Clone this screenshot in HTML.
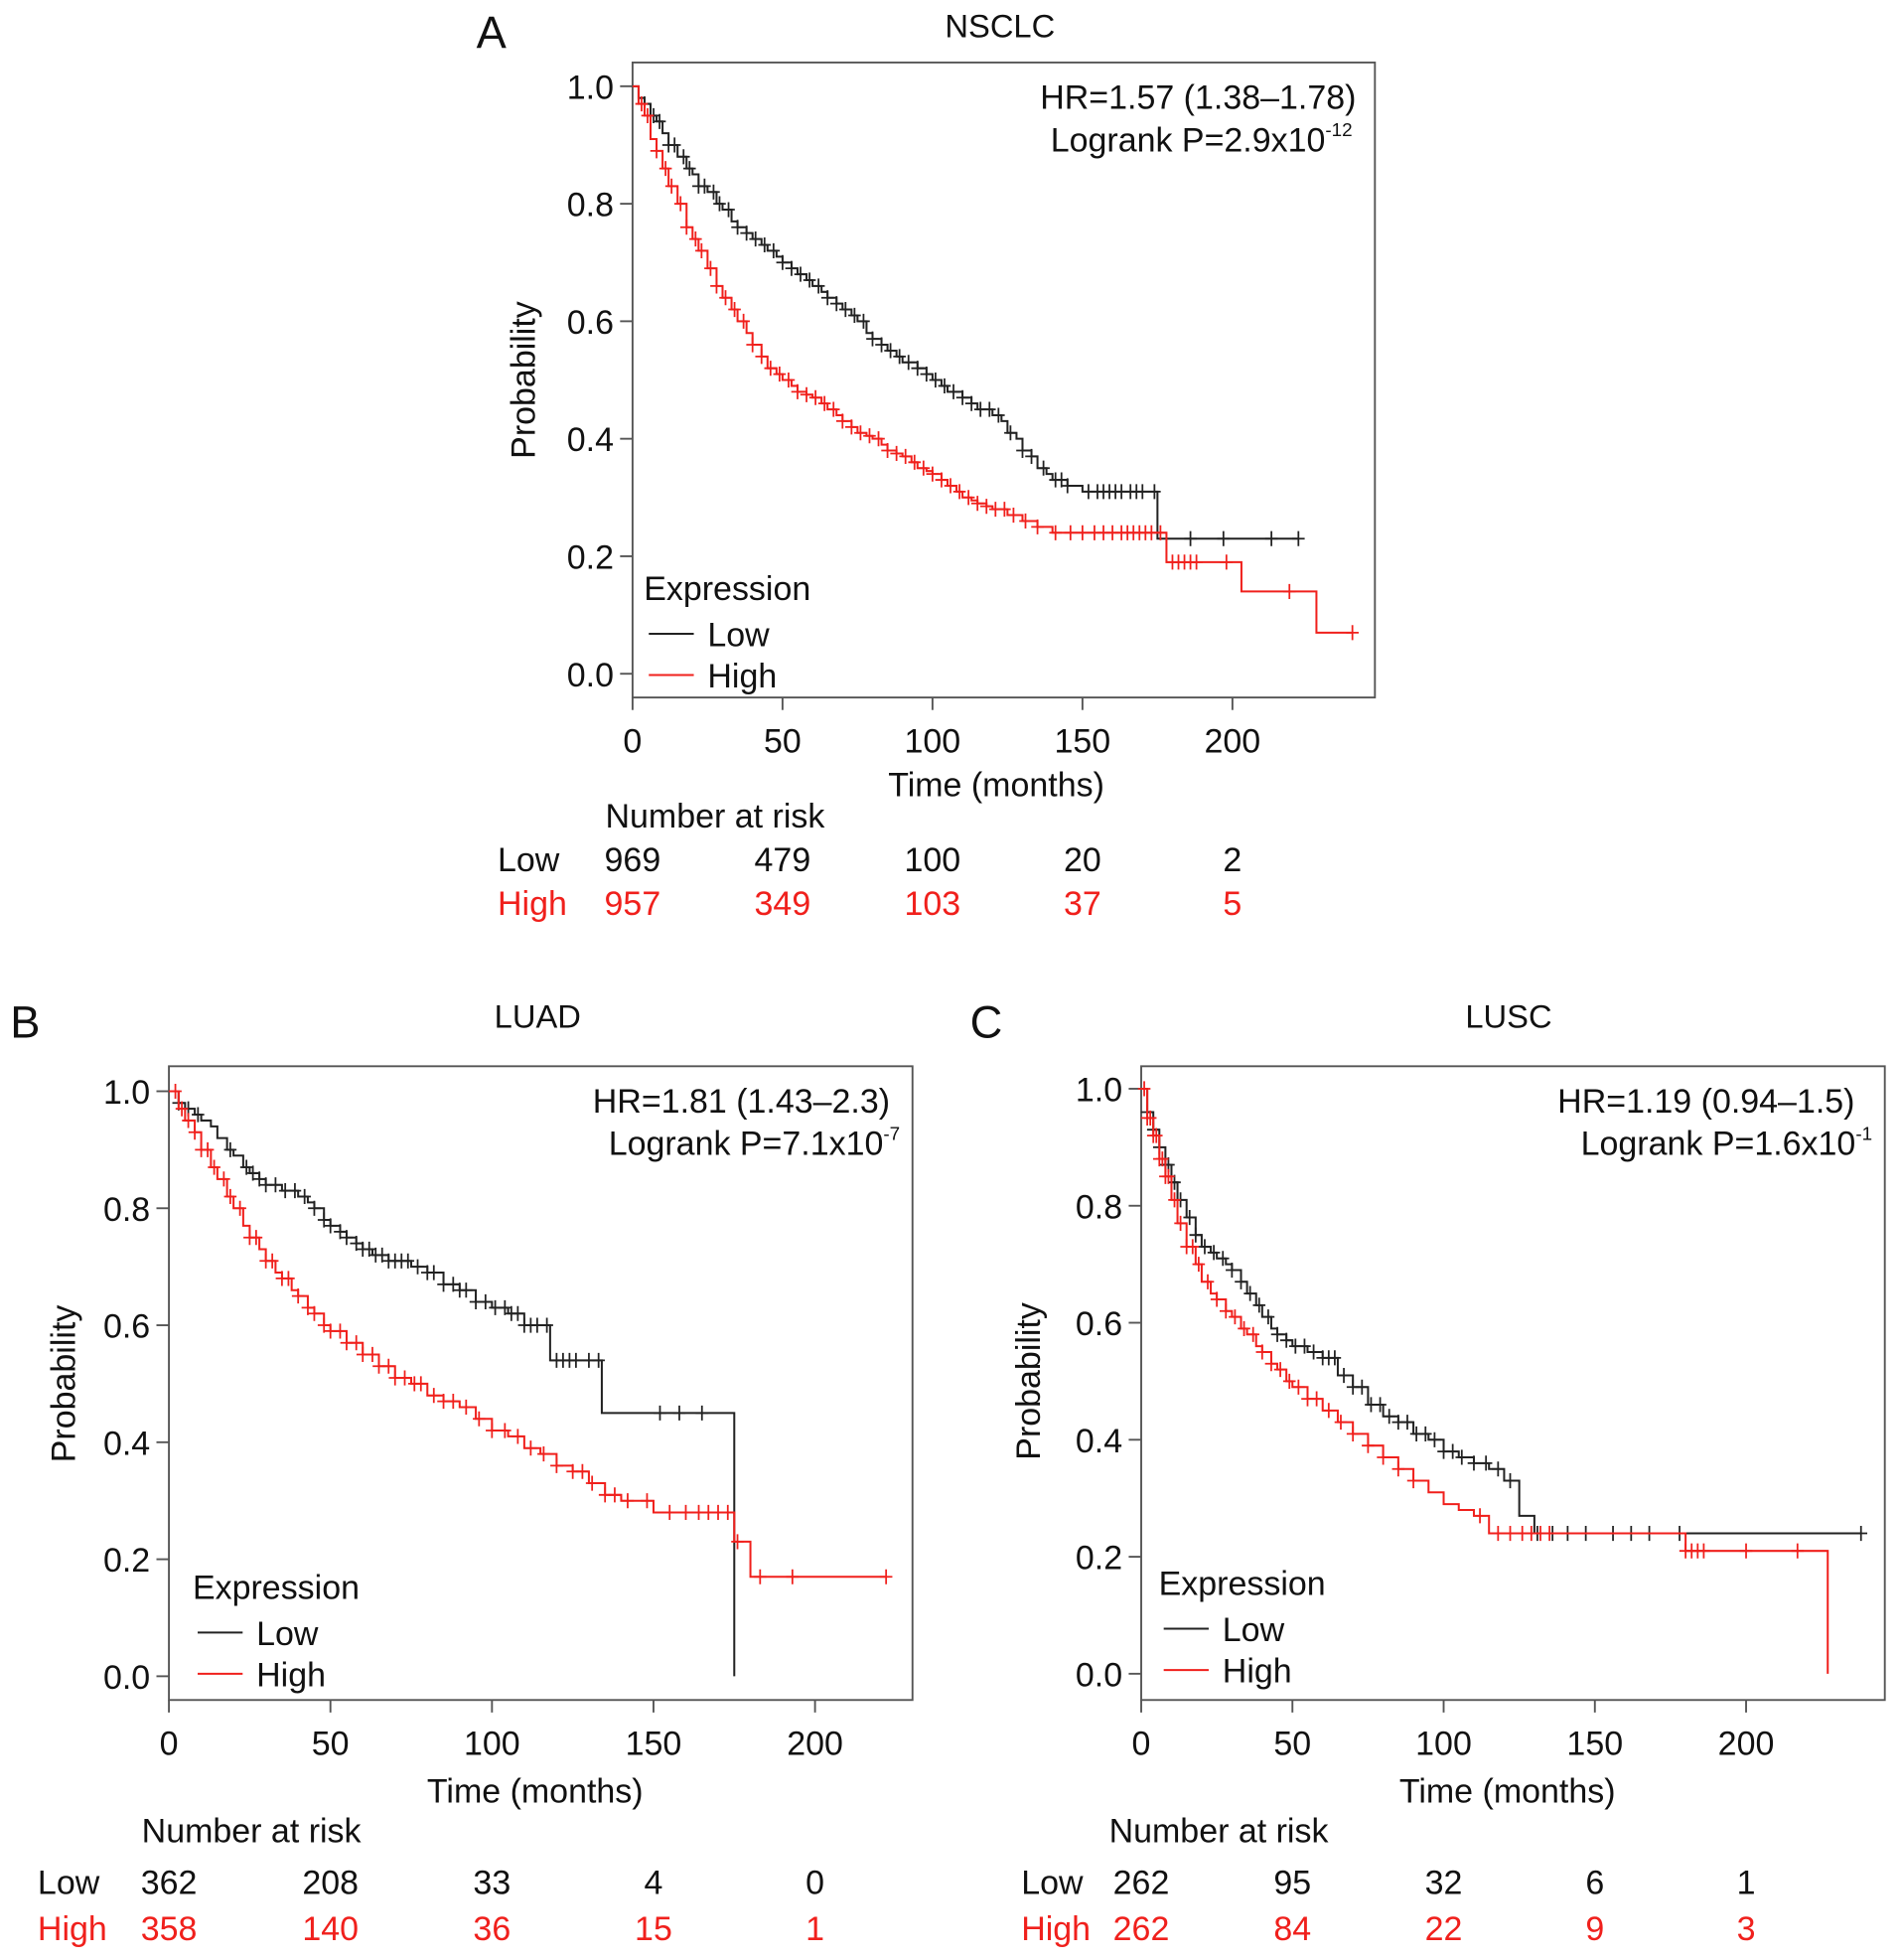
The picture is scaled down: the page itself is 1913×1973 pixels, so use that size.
<!DOCTYPE html>
<html><head><meta charset="utf-8"><style>
html,body{margin:0;padding:0;background:#fff;}
svg{display:block;}
text{font-family:"Liberation Sans",Arial,sans-serif;}
</style></head><body>
<svg id="fig" width="1913" height="1973" viewBox="0 0 1520 1568" xmlns="http://www.w3.org/2000/svg"></svg>
<script>
// ===== data =====
const tickX = [0, 50, 100, 150, 200];
const tickY = [0, 0.2, 0.4, 0.6, 0.8, 1.0];
const tickYLabels = ["0.0", "0.2", "0.4", "0.6", "0.8", "1.0"];

const nsclcLowT = [0,2,4,6,8,10,12,15,18,20,22,25,28,30,33,35,38,40,43,45,48,50,53,55,58,60,63,65,68,70,73,75,78,80,83,85,88,90,93,95,98,100,103,105,108,110,113,115,118,120,123,125,128,130,133,135,138,140,145,150,175,222];
const nsclcLowS = [1,0.98,0.97,0.95,0.94,0.92,0.90,0.88,0.86,0.85,0.83,0.82,0.80,0.79,0.77,0.76,0.75,0.74,0.73,0.72,0.71,0.70,0.69,0.68,0.67,0.66,0.65,0.64,0.63,0.62,0.61,0.60,0.58,0.57,0.56,0.55,0.54,0.53,0.53,0.52,0.51,0.50,0.49,0.48,0.48,0.47,0.46,0.45,0.45,0.44,0.43,0.41,0.40,0.38,0.37,0.35,0.34,0.33,0.32,0.31,0.23,0.23];
const nsclcLowC = [4,7,9,12,14,17,19,22,24,27,29,32,35,38,41,44,47,50,53,56,59,62,65,68,71,74,77,80,83,86,89,92,95,98,101,104,107,110,113,116,119,122,126,130,133,137,141,143,145,152,155,157,159,161,163,166,168,170,174,186,197,213,222];
const nsclcHighT = [0,2,4,6,8,10,12,15,18,20,22,25,28,30,33,35,38,40,43,45,48,50,53,55,58,60,63,65,68,70,73,75,78,80,83,85,88,90,93,95,98,100,103,105,108,110,113,115,118,120,125,130,135,140,150,178,203,228,240];
const nsclcHighS = [1,0.97,0.95,0.91,0.89,0.86,0.83,0.80,0.76,0.74,0.72,0.69,0.66,0.64,0.62,0.60,0.58,0.56,0.54,0.52,0.51,0.50,0.49,0.48,0.475,0.47,0.46,0.45,0.44,0.43,0.42,0.41,0.405,0.40,0.39,0.38,0.375,0.37,0.36,0.35,0.345,0.34,0.33,0.32,0.31,0.30,0.295,0.29,0.285,0.28,0.27,0.26,0.25,0.24,0.24,0.19,0.14,0.07,0.07];
const nsclcHighC = [3,5,8,11,13,16,18,21,23,26,28,31,34,37,40,43,46,49,52,55,58,61,64,67,70,73,76,79,82,85,88,91,94,97,100,103,106,109,112,115,118,121,124,127,131,135,141,146,150,154,157,160,163,165,167,169,171,173,176,180,182,184,186,188,198,219,240];

const luadLowT = [0,3,5,8,10,13,15,18,20,23,25,28,30,33,35,38,40,43,45,48,50,53,55,58,60,63,65,68,70,75,80,85,90,95,100,105,110,118,134,175];
const luadLowS = [1,0.98,0.97,0.96,0.95,0.94,0.92,0.90,0.89,0.87,0.86,0.85,0.84,0.84,0.83,0.83,0.82,0.81,0.80,0.78,0.77,0.76,0.75,0.74,0.73,0.72,0.72,0.71,0.71,0.70,0.69,0.67,0.66,0.64,0.63,0.62,0.60,0.54,0.45,0.0];
const luadLowC = [3,6,9,19,24,26,28,30,33,36,39,42,45,48,50,53,55,58,60,62,64,66,68,70,72,74,77,80,82,85,88,90,92,95,98,101,104,106,108,110,112,114,117,120,122,124,126,130,133,152,158,165];
const luadHighT = [0,3,5,8,10,13,15,18,20,23,25,28,30,33,35,38,40,43,45,48,50,55,60,65,70,75,80,85,90,95,100,105,110,115,120,125,130,135,140,150,175,180,222];
const luadHighS = [1,0.97,0.95,0.93,0.90,0.87,0.85,0.82,0.80,0.77,0.75,0.73,0.71,0.69,0.68,0.66,0.65,0.63,0.62,0.60,0.59,0.57,0.55,0.53,0.51,0.50,0.48,0.47,0.46,0.44,0.42,0.41,0.39,0.38,0.36,0.35,0.33,0.31,0.30,0.28,0.23,0.17,0.17];
const luadHighC = [2,4,6,8,10,12,14,17,19,22,25,27,30,32,35,37,40,43,45,48,50,53,55,58,60,63,65,68,70,73,76,78,82,85,88,92,96,100,104,108,112,116,120,125,128,131,135,138,142,148,155,160,164,167,170,173,176,183,193,222];

const luscLowT = [0,2,4,6,8,10,12,15,18,20,23,25,28,30,33,35,38,40,43,45,48,50,55,60,65,70,75,80,85,90,95,100,105,110,115,120,125,130,238];
const luscLowS = [1,0.96,0.93,0.90,0.87,0.84,0.81,0.78,0.75,0.73,0.72,0.71,0.70,0.69,0.67,0.65,0.63,0.61,0.59,0.58,0.57,0.56,0.55,0.54,0.51,0.49,0.46,0.44,0.43,0.41,0.40,0.38,0.37,0.36,0.35,0.33,0.27,0.24,0.24];
const luscLowC = [2,4,6,8,9,11,13,16,18,21,24,27,30,33,36,39,42,45,48,51,54,57,60,62,64,67,70,73,76,79,82,85,88,91,94,97,100,103,106,110,114,118,122,131,136,141,147,156,162,168,178,238];
const luscHighT = [0,2,4,6,8,10,12,15,18,20,23,25,28,30,33,35,38,40,43,45,48,50,55,60,65,70,75,80,85,90,95,100,105,110,115,180,227];
const luscHighS = [1,0.95,0.92,0.88,0.85,0.81,0.77,0.73,0.70,0.67,0.65,0.64,0.62,0.61,0.59,0.58,0.56,0.55,0.53,0.52,0.50,0.49,0.47,0.45,0.43,0.41,0.39,0.37,0.35,0.33,0.31,0.29,0.28,0.27,0.24,0.21,0.0];
const luscHighC = [1,2,3,4,5,6,7,8,9,11,13,15,17,19,22,25,28,31,34,37,40,43,46,49,52,55,58,62,66,70,75,80,85,90,112,118,122,126,129,132,135,180,182,184,186,200,217];

const riskTimes = [0, 50, 100, 150, 200];
const nsclcRiskLow = [969, 479, 100, 20, 2];
const nsclcRiskHigh = [957, 349, 103, 37, 5];
const luadRiskLow = [362, 208, 33, 4, 0];
const luadRiskHigh = [358, 140, 36, 15, 1];
const luscRiskLow = [262, 95, 32, 6, 1];
const luscRiskHigh = [262, 84, 22, 9, 3];

// ===== drawing =====
const NS = "http://www.w3.org/2000/svg";
const svg = document.getElementById("fig");
const FS = 27;
function mk(tag, attrs, parent) {
  const e = document.createElementNS(NS, tag);
  for (const k in attrs) e.setAttribute(k, attrs[k]);
  (parent || svg).appendChild(e);
  return e;
}
function txt(str, x, y, size, anchor, color, parent) {
  const t = mk("text", {x: x, y: y, "font-size": size, "text-anchor": anchor || "start", fill: color || "#111"}, parent);
  t.textContent = str;
  return t;
}
function survAt(T, S, t) {
  let s = S[0];
  for (let i = 0; i < T.length; i++) { if (T[i] <= t) s = S[i]; else break; }
  return s;
}

function panel(cfg) {
  const g = mk("g", {});
  
  
  const sx = t => cfg.x0 + (t / 200) * (cfg.x200 - cfg.x0);
  const sy = p => cfg.y0 - p * (cfg.y0 - cfg.y1);

  const box = mk("rect", {x: cfg.bx, y: cfg.by, width: cfg.bw, height: cfg.bh, fill: "none", stroke: "#555", "stroke-width": 1.5}, g);
  
  

  const letter = txt(cfg.letter, cfg.lx, cfg.ly, 36, "start", "#111", g);
  
  
  const title = txt(cfg.title, cfg.tx, cfg.ty, 26, "middle", "#111", g);
  
  

  tickY.forEach((v, i) => {
    const y = sy(v);
    const l = mk("line", {x1: cfg.bx - 10, x2: cfg.bx, y1: y, y2: y, stroke: "#555", "stroke-width": 1.5}, g);
    
    
    const t = txt(tickYLabels[i], cfg.bx - 15, y + 10, FS, "end", "#111", g);
    
    
  });
  const yl = mk("text", {x: 0, y: 0, "font-size": FS, "text-anchor": "middle", fill: "#111",
    transform: "translate(" + cfg.ylx + "," + (sy(0.5)) + ") rotate(-90)"}, g);
  yl.textContent = "Probability";
  
  

  tickX.forEach(v => {
    const x = sx(v);
    const l = mk("line", {x1: x, x2: x, y1: cfg.by + cfg.bh, y2: cfg.by + cfg.bh + 10, stroke: "#555", "stroke-width": 1.5}, g);
    
    
    const t = txt(String(v), x, cfg.by + cfg.bh + 44, FS, "middle", "#111", g);
    
    
  });
  const xl = txt("Time (months)", cfg.xlx, cfg.by + cfg.bh + cfg.xly, FS, "middle", "#111", g);
  
  

  function curve(T, S, C, color, nm) {
    let d = "M" + sx(T[0]) + "," + sy(S[0]);
    for (let i = 1; i < T.length; i++) {
      d += " H" + sx(T[i]) + " V" + sy(S[i]);
    }
    const p = mk("path", {d: d, fill: "none", stroke: color, "stroke-width": 1.6}, g);
    
    
    C.forEach(t => {
      const x = sx(t), y = sy(survAt(T, S, t));
      const c = mk("path", {d: "M" + (x - 5) + "," + y + " H" + (x + 5) + " M" + x + "," + (y - 6) + " V" + (y + 6), stroke: color, "stroke-width": 1.4, fill: "none"}, g);
      
      
    });
  }
  curve(cfg.lowT, cfg.lowS, cfg.lowC, "#222", "low");
  curve(cfg.highT, cfg.highS, cfg.highC, "#f0201c", "high");

  const hr = txt(cfg.hr, cfg.hrx, cfg.by + 37, FS, "end", "#111", g);
  
  
  const lr = mk("text", {x: cfg.hrx + cfg.lrdx, y: cfg.by + 71, "font-size": FS, "text-anchor": "end", fill: "#111"}, g);
  
  
  const t1 = mk("tspan", {}, lr); t1.textContent = "Logrank P=" + cfg.p;
  const t2 = mk("tspan", {dy: -12, "font-size": 15}, lr); t2.textContent = cfg.pexp;

  const lg = mk("g", {}, g);
  
  
  txt("Expression", cfg.legx, cfg.legy, FS, "start", "#111", lg);
  const ll = mk("line", {x1: cfg.legx + 4, x2: cfg.legx + 40, y1: cfg.legy + 27, y2: cfg.legy + 27, stroke: "#222", "stroke-width": 1.6}, lg);
  
  
  txt("Low", cfg.legx + 51, cfg.legy + 37, FS, "start", "#111", lg);
  const lh = mk("line", {x1: cfg.legx + 4, x2: cfg.legx + 40, y1: cfg.legy + 60, y2: cfg.legy + 60, stroke: "#f0201c", "stroke-width": 1.6}, lg);
  
  
  txt("High", cfg.legx + 51, cfg.legy + 70, FS, "start", "#111", lg);

  const rt = mk("g", {}, g);
  
  
  txt("Number at risk", cfg.nrx, cfg.nry, FS, "middle", "#111", rt);
  txt("Low", cfg.rlx, cfg.r1y, FS, "start", "#111", rt);
  txt("High", cfg.rlx, cfg.r2y, FS, "start", "#f0201c", rt);
  riskTimes.forEach((t, i) => {
    const a = txt(String(cfg.riskLow[i]), sx(t), cfg.r1y, FS, "middle", "#111", rt);
    
    
    const b = txt(String(cfg.riskHigh[i]), sx(t), cfg.r2y, FS, "middle", "#f0201c", rt);
    
    
  });
}

panel({name: "nsclc", letter: "A", lx: 381, ly: 38, title: "NSCLC", tx: 800, ty: 30,
  bx: 506, by: 50, bw: 594, bh: 508, x0: 506, x200: 986, y0: 539, y1: 69, ylx: 428, xlx: 797, xly: 79,
  lowT: nsclcLowT, lowS: nsclcLowS, lowC: nsclcLowC, highT: nsclcHighT, highS: nsclcHighS, highC: nsclcHighC,
  hr: "HR=1.57 (1.38\u20131.78)", hrx: 1085, lrdx: -3, p: "2.9x10", pexp: "-12",
  legx: 515, legy: 480, nrx: 572, nry: 662, r1y: 697, r2y: 732, rlx: 398, riskLow: nsclcRiskLow, riskHigh: nsclcRiskHigh});

panel({name: "luad", letter: "B", lx: 8, ly: 830, title: "LUAD", tx: 430, ty: 822,
  bx: 135, by: 853, bw: 595, bh: 507, x0: 135, x200: 652, y0: 1341, y1: 873, ylx: 60, xlx: 428, xly: 82,
  lowT: luadLowT, lowS: luadLowS, lowC: luadLowC, highT: luadHighT, highS: luadHighS, highC: luadHighC,
  hr: "HR=1.81 (1.43\u20132.3)", hrx: 712, lrdx: 8, p: "7.1x10", pexp: "-7",
  legx: 154, legy: 1279, nrx: 201, nry: 1474, r1y: 1515, r2y: 1552, rlx: 30, riskLow: luadRiskLow, riskHigh: luadRiskHigh});

panel({name: "lusc", letter: "C", lx: 776, ly: 830, title: "LUSC", tx: 1207, ty: 822,
  bx: 913, by: 853, bw: 595, bh: 507, x0: 913, x200: 1397, y0: 1339, y1: 871, ylx: 832, xlx: 1206, xly: 82,
  lowT: luscLowT, lowS: luscLowS, lowC: luscLowC, highT: luscHighT, highS: luscHighS, highC: luscHighC,
  hr: "HR=1.19 (0.94\u20131.5)", hrx: 1484, lrdx: 14, p: "1.6x10", pexp: "-1",
  legx: 927, legy: 1276, nrx: 975, nry: 1474, r1y: 1515, r2y: 1552, rlx: 817, riskLow: luscRiskLow, riskHigh: luscRiskHigh});
</script>
</body></html>
